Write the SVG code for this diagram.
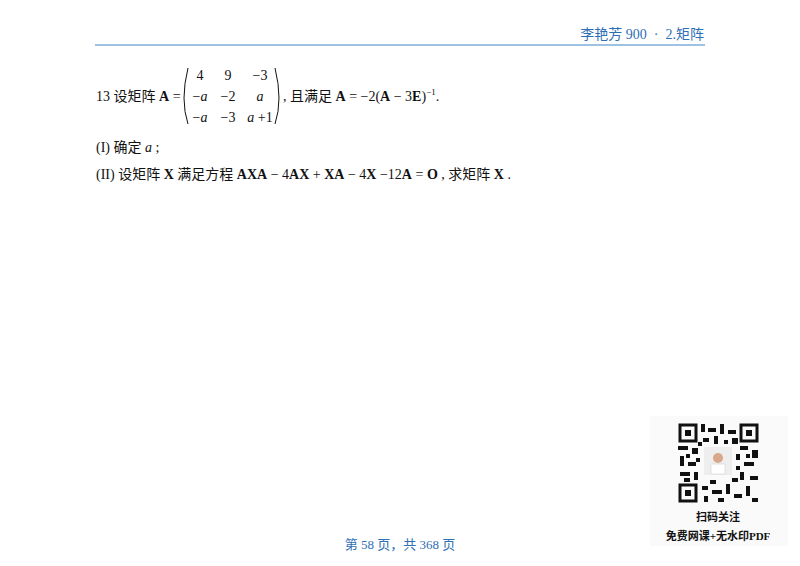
<svg xmlns="http://www.w3.org/2000/svg" width="800" height="566" viewBox="0 0 800 566">
<style>
.t{font-family:"Liberation Serif","Noto Sans CJK SC",serif;font-size:14px;fill:#111}
.b{font-weight:bold}
.i{font-style:italic}
.blue{fill:#2f6fb5;font-family:"Liberation Serif","Noto Sans CJK SC",serif;font-size:13px}
.q{fill:#111}
</style>
<rect width="800" height="566" fill="#fff"/>
<text class="blue" x="704" y="39" text-anchor="end" style="font-size:14px;white-space:pre" xml:space="preserve">李艳芳 900  ·  2.矩阵</text>
<line x1="95" y1="45" x2="705" y2="45" stroke="#3d85c6" stroke-width="1"/>
<g id="problem">
<text class="t" x="96" y="101">13 设矩阵 <tspan class="b">A</tspan> =</text>
<path d="M188,68 Q180,100 188,124" fill="none" stroke="#111" stroke-width="1"/>
<path d="M275,68 Q283,100 275,124" fill="none" stroke="#111" stroke-width="1"/>
<text class="t" x="200" y="80" text-anchor="middle">4</text>
<text class="t" x="228" y="80" text-anchor="middle">9</text>
<text class="t" x="260" y="80" text-anchor="middle">−3</text>
<text class="t" x="200" y="101" text-anchor="middle">−<tspan class="i">a</tspan></text>
<text class="t" x="228" y="101" text-anchor="middle">−2</text>
<text class="t" x="260" y="101" text-anchor="middle" font-style="italic">a</text>
<text class="t" x="200" y="122" text-anchor="middle">−<tspan class="i">a</tspan></text>
<text class="t" x="228" y="122" text-anchor="middle">−3</text>
<text class="t" x="260" y="122" text-anchor="middle"><tspan class="i">a</tspan> +1</text>
<text class="t" x="283" y="101">, 且满足 <tspan class="b">A</tspan> = −2(<tspan class="b">A</tspan> − 3<tspan class="b">E</tspan>)<tspan dy="-6" style="font-size:9px">−1</tspan><tspan dy="6">.</tspan></text>
<text class="t" x="96" y="152">(I) 确定 <tspan class="i">a</tspan> ;</text>
<text class="t" x="96" y="179">(II) 设矩阵 <tspan class="b">X</tspan> 满足方程 <tspan class="b">AXA</tspan> − 4<tspan class="b">AX</tspan> + <tspan class="b">XA</tspan> − 4<tspan class="b">X</tspan> −12<tspan class="b">A</tspan> = <tspan class="b">O</tspan> , 求矩阵 <tspan class="b">X</tspan> .</text>
</g>
<g id="qr">
<rect x="650" y="416" width="138" height="130" fill="#fafafa"/>
<g fill="none" stroke="#111" stroke-width="3">
<rect x="680" y="425" width="16" height="16"/>
<rect x="741" y="425" width="16" height="16"/>
<rect x="680" y="485" width="16" height="16"/>
</g>
<g class="q">
<rect x="685" y="430" width="6" height="6"/><rect x="746" y="430" width="6" height="6"/><rect x="685" y="490" width="6" height="6"/>
<rect x="701" y="424" width="4" height="8"/><rect x="708" y="428" width="8" height="4"/><rect x="720" y="424" width="4" height="10"/><rect x="728" y="430" width="8" height="4"/><rect x="703" y="438" width="6" height="4"/><rect x="714" y="436" width="4" height="8"/><rect x="732" y="438" width="6" height="6"/><rect x="724" y="440" width="4" height="4"/><rect x="698" y="442" width="4" height="4"/>
<rect x="678" y="446" width="10" height="4"/><rect x="692" y="448" width="6" height="6"/><rect x="680" y="456" width="4" height="10"/><rect x="688" y="462" width="8" height="4"/><rect x="680" y="472" width="10" height="4"/><rect x="694" y="472" width="4" height="8"/><rect x="686" y="454" width="4" height="4"/><rect x="696" y="458" width="4" height="4"/><rect x="684" y="478" width="6" height="4"/>
<rect x="740" y="446" width="8" height="4"/><rect x="752" y="450" width="6" height="8"/><rect x="744" y="462" width="10" height="4"/><rect x="740" y="472" width="4" height="8"/><rect x="750" y="476" width="8" height="4"/><rect x="736" y="454" width="4" height="6"/><rect x="746" y="454" width="4" height="4"/><rect x="736" y="466" width="4" height="4"/>
<rect x="702" y="486" width="6" height="4"/><rect x="712" y="490" width="10" height="4"/><rect x="726" y="484" width="4" height="10"/><rect x="734" y="494" width="8" height="4"/><rect x="746" y="486" width="4" height="10"/><rect x="752" y="498" width="6" height="4"/><rect x="704" y="496" width="4" height="6"/><rect x="718" y="498" width="6" height="4"/><rect x="710" y="480" width="6" height="4"/><rect x="732" y="478" width="6" height="4"/>
</g>
<rect x="704" y="447" width="28" height="28" fill="#eee"/>
<circle cx="718" cy="458" r="5" fill="#d9a88a"/>
<rect x="711" y="464" width="14" height="10" fill="#fff" stroke="#ccc" stroke-width="0.5"/>
<text class="t b" x="718" y="521" text-anchor="middle" style="font-size:11px">扫码关注</text>
<text class="t b" x="718" y="540" text-anchor="middle" style="font-size:11px">免费网课+无水印PDF</text>
</g>
<text class="blue" x="400" y="549" text-anchor="middle">第 58 页，共 368 页</text>
</svg>
